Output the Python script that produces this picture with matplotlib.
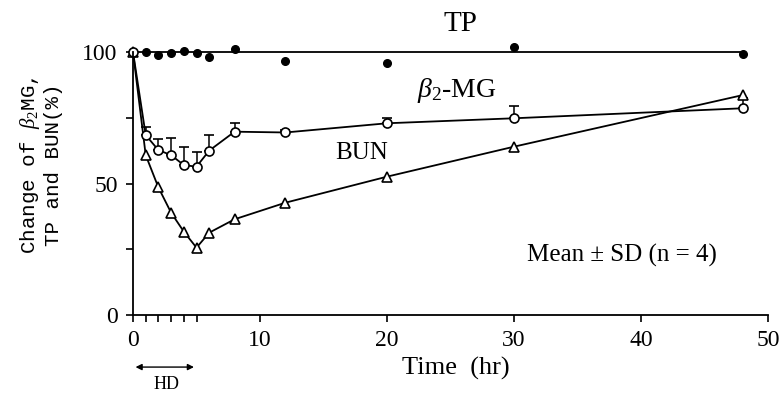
import matplotlib
matplotlib.use("Agg")
import matplotlib.pyplot as plt

# time points (hr)
time_hr = [0, 1, 2, 3, 4, 5, 6, 8, 12, 20, 30, 48]

# total protein (filled dots)
tp = [100, 100, 99, 99.5, 100.2, 99.5, 98.2, 101, 96.7, 95.7, 101.8, 99.1]

# beta2-microglobulin mean and upper SD
b2mg = [100, 68.4, 62.7, 60.8, 57, 56.4, 62.5, 69.7, 69.4, 72.9, 74.8, 78.6]
b2mg_sd = [0, 3.2, 4.1, 6.4, 7.0, 5.6, 5.9, 3.3, 0.8, 2.1, 4.7, 3.8]

# blood urea nitrogen
bun = [100, 60.8, 48.5, 38.9, 31.7, 25.6, 31.3, 36.4, 42.7, 52.6, 64.0, 83.6]

x_major = [0, 10, 20, 30, 40, 50]
x_minor = [1, 2, 3, 4, 5]
y_major = [0, 50, 100]
y_minor = [25, 75]


def main():
    plt.rcParams['font.family'] = 'Liberation Serif'
    plt.rcParams['mathtext.fontset'] = 'custom'
    plt.rcParams['mathtext.rm'] = 'Liberation Serif'
    plt.rcParams['mathtext.it'] = 'Liberation Serif:italic'

    fig = plt.figure(figsize=(7.81, 3.95), dpi=100)
    ax = fig.add_axes([133 / 781, 80 / 395, 635 / 781, 263 / 395])

    lw = 1.3

    # TP: flat reference line with scattered dots
    ax.plot([0, 48], [100, 100], color='black', lw=lw, clip_on=False)
    ax.plot(time_hr[1:], tp[1:], linestyle='none', marker='o', ms=5.5,
            color='black', clip_on=False)

    # beta2-MG with upper error bars
    ax.errorbar(time_hr, b2mg, yerr=[[0] * len(b2mg_sd), b2mg_sd],
                color='black', lw=lw, elinewidth=1.1, capsize=3.5, capthick=1.1,
                marker='o', ms=6.5, mfc='white', mec='black', mew=1.2,
                clip_on=False)

    # BUN
    ax.plot(time_hr, bun, color='black', lw=lw, marker='^', ms=7.5,
            mfc='white', mec='black', mew=1.2, clip_on=False)

    ax.set_xlim(0, 50)
    ax.set_ylim(0, 100)
    ax.spines['top'].set_visible(False)
    ax.spines['right'].set_visible(False)
    ax.spines['left'].set_linewidth(1.3)
    ax.spines['bottom'].set_linewidth(1.3)

    ax.set_xticks(x_major)
    ax.set_xticks(x_minor, minor=True)
    ax.set_yticks(y_major)
    ax.set_yticks(y_minor, minor=True)
    ax.tick_params(which='both', direction='out', width=1.2, labelsize=17)
    ax.tick_params(which='major', length=5)
    ax.tick_params(which='minor', length=5)
    ax.tick_params(axis='x', pad=6)
    ax.tick_params(axis='y', pad=6)

    ax.text(25.8, 110.5, 'TP', fontsize=21, ha='center', va='center')
    ax.text(22.4, 85.5, r'$\beta_2$-MG', fontsize=20, ha='left', va='center')
    ax.text(18.0, 61.7, 'BUN', fontsize=18, ha='center', va='center')
    ax.text(38.5, 22.8, 'Mean \u00b1 SD (n = 4)', fontsize=18, ha='center', va='center')

    ax.text(0.509, -0.205, 'Time  (hr)', fontsize=19, ha='center', va='center',
            transform=ax.transAxes)

    ax.set_ylabel('Change of $\\beta_2$MG,\nTP and BUN(%)', fontsize=15,
                  family='Liberation Mono', linespacing=1.15)
    ax.yaxis.set_label_coords(-0.110, 0.57)

    # hemodialysis period
    ax.annotate('', xy=(0.2, -19.8), xytext=(4.8, -19.8), annotation_clip=False,
                arrowprops=dict(arrowstyle='<|-|>', color='black', lw=1.0,
                                mutation_scale=9, shrinkA=0, shrinkB=0))
    ax.text(2.6, -26.5, 'HD', fontsize=13, ha='center', va='center')

    plt.savefig('out.png', dpi=100)


if __name__ == "__main__":
    main()
